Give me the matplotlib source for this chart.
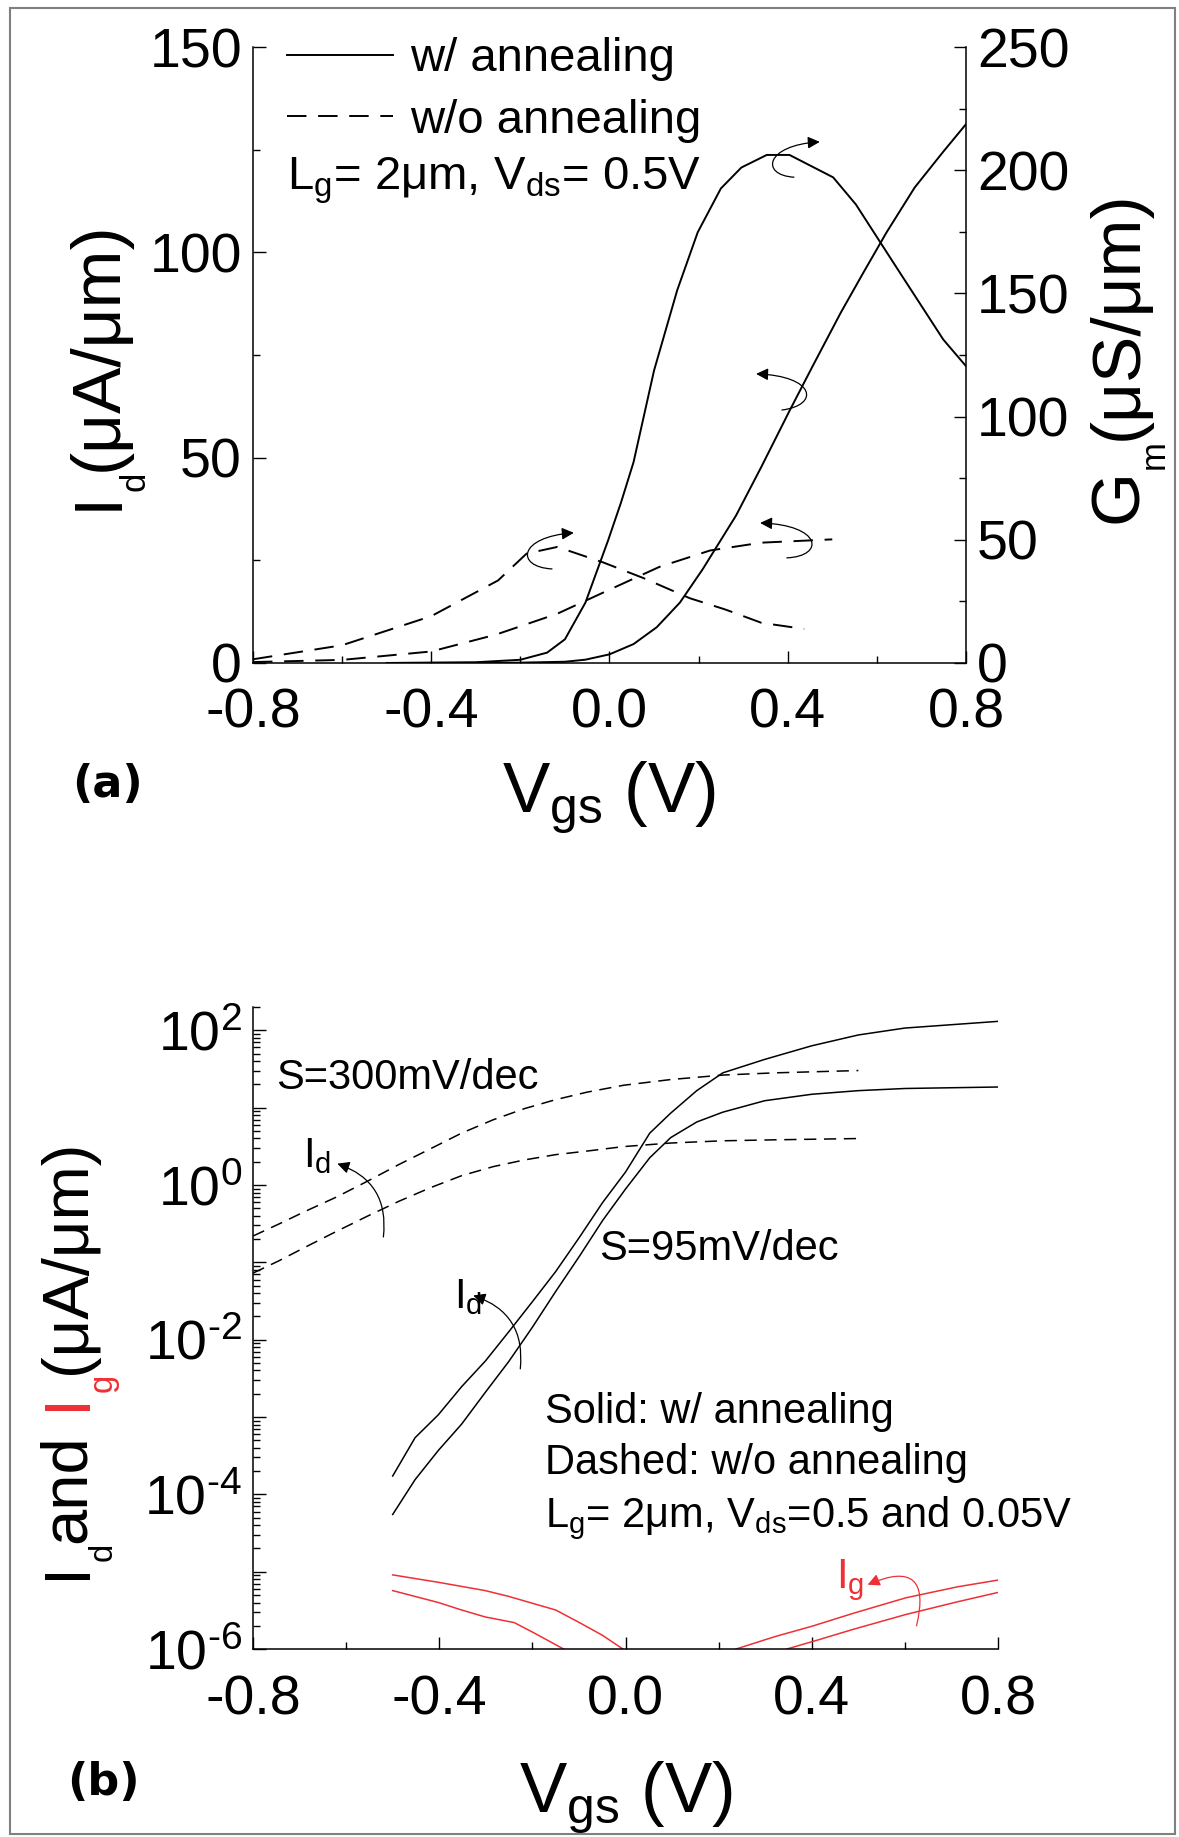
import numpy as np
import matplotlib
matplotlib.use("Agg")
import matplotlib.pyplot as plt
from matplotlib.patches import FancyArrowPatch, Rectangle
from matplotlib.path import Path
from matplotlib.ticker import MultipleLocator

plt.rcParams['font.family'] = ['Liberation Sans', 'DejaVu Sans']
plt.rcParams['mathtext.fontset'] = 'custom'
plt.rcParams['mathtext.rm'] = 'Liberation Sans'
plt.rcParams['mathtext.it'] = 'Liberation Sans:italic'
plt.rcParams['mathtext.default'] = 'regular'
plt.rcParams['axes.unicode_minus'] = False

RED = '#ee3035'
W, H = 1179, 1837

# ---- (a) linear Id and Gm, Vds = 0.5 V ----
vg_id_ann = [-0.5, -0.3, -0.2, -0.1, -0.054, 0.0, 0.054, 0.106, 0.158, 0.209, 0.284,
             0.341, 0.404, 0.456, 0.519, 0.570, 0.622, 0.685, 0.749, 0.8]
id_ann = [0, 0.02, 0.08, 0.3, 0.8, 2.1, 4.6, 8.7, 14.7, 22.8, 35.9,
          47.8, 61.4, 72.3, 85.3, 95.1, 104.9, 115.8, 124.5, 131.2]

vg_gm_ann = [-0.5, -0.3, -0.2, -0.14, -0.1, -0.054, -0.003, 0.026, 0.054, 0.1, 0.152,
             0.198, 0.25, 0.296, 0.353, 0.404, 0.502, 0.553, 0.645, 0.749, 0.8]
gm_ann = [0, 0.3, 1.3, 4.2, 9.6, 24.5, 49.8, 65.2, 81.5, 118.7, 151.3,
          174.8, 192.6, 201.1, 206.2, 206.2, 197.1, 186.1, 160.3, 131.3, 120.5]

vg_id_noann = [-0.8, -0.6, -0.4, -0.255, -0.117, -0.003, 0.112, 0.226, 0.341, 0.5]
id_noann = [0.22, 0.75, 2.8, 6.9, 12.0, 17.7, 23.4, 27.4, 29.3, 30.1]

vg_gm_noann = [-0.8, -0.6, -0.4, -0.25, -0.186, -0.117, -0.014, 0.077, 0.18, 0.26, 0.341, 0.437]
gm_noann = [1.5, 7.2, 19.0, 33.5, 44.4, 47.1, 40.8, 34.4, 26.3, 21.7, 16.3, 13.8]

# ---- (b) log Id and Ig ----
vg_ann_log = [-0.5, -0.452, -0.402, -0.352, -0.301, -0.251, -0.200, -0.150, -0.099, -0.049,
              0.0, 0.052, 0.097, 0.153, 0.209, 0.299, 0.40, 0.50, 0.60, 0.80]
id_ann_hi = [1.73e-4, 5.4e-4, 1.07e-3, 2.47e-3, 5.3e-3, 1.26e-2, 3.1e-2, 7.6e-2, 0.211, 0.596,
             1.47, 4.68, 8.5, 16.6, 28.2, 42.1, 63.1, 87.1, 107, 130.6]
id_ann_lo = [5.5e-5, 1.55e-4, 3.7e-4, 8.1e-4, 2.09e-3, 5.2e-3, 1.45e-2, 4.2e-2, 0.120, 0.349,
             0.887, 2.25, 4.10, 6.53, 8.75, 12.3, 14.9, 16.6, 17.7, 18.5]

vg_noann_log = [-0.8, -0.744, -0.688, -0.621, -0.553, -0.486, -0.419, -0.352, -0.284,
                -0.217, -0.15, -0.082, -0.004, 0.097, 0.209, 0.321, 0.5]
id_noann_hi = [0.219, 0.314, 0.456, 0.698, 1.13, 1.85, 2.94, 4.69, 6.98,
               9.72, 12.7, 15.9, 19.5, 23.1, 26.4, 28.2, 30.2]
id_noann_lo = [0.0726, 0.105, 0.157, 0.251, 0.399, 0.619, 0.923, 1.32, 1.73,
               2.11, 2.47, 2.75, 3.14, 3.49, 3.73, 3.84, 3.99]

vg_ig_l1 = [-0.5, -0.402, -0.301, -0.251, -0.150, -0.099, -0.049, 0.0]
ig_l1 = [9.1e-6, 7.3e-6, 5.7e-6, 4.8e-6, 3.2e-6, 2.2e-6, 1.5e-6, 0.95e-6]
vg_ig_l2 = [-0.5, -0.402, -0.352, -0.301, -0.239, -0.195, -0.13]
ig_l2 = [5.7e-6, 4.0e-6, 3.2e-6, 2.6e-6, 2.2e-6, 1.6e-6, 0.98e-6]
vg_ig_r1 = [0.237, 0.321, 0.40, 0.489, 0.602, 0.714, 0.8]
ig_r1 = [1.0e-6, 1.45e-6, 1.97e-6, 2.9e-6, 4.6e-6, 6.4e-6, 7.8e-6]
vg_ig_r2 = [0.346, 0.411, 0.489, 0.602, 0.714, 0.8]
ig_r2 = [1.0e-6, 1.3e-6, 1.8e-6, 2.8e-6, 4.1e-6, 5.4e-6]

x_ticks = [-0.8, -0.4, 0.0, 0.4, 0.8]
decades = [1e-6, 1e-5, 1e-4, 1e-3, 1e-2, 1e-1, 1e0, 1e1, 1e2]
decade_labels = [r'10$^{\text{-6}}$', '', r'10$^{\text{-4}}$', '', r'10$^{\text{-2}}$', '',
                 r'10$^{\text{0}}$', '', r'10$^{\text{2}}$']

fig = plt.figure(figsize=(W / 100, H / 100), dpi=100)
fig.add_artist(Rectangle((10 / W, 0.0016), (1175 - 10) / W, 0.994, transform=fig.transFigure,
                         fill=False, ec='#808080', lw=1.5))

TICK_FS = 40
LBL_FS = 51


def style_ticks(ax, **kw):
    ax.tick_params(which='both', direction='in', width=1.0, labelsize=TICK_FS, **kw)
    ax.tick_params(which='major', length=9)
    ax.tick_params(which='minor', length=5)
    ax.tick_params(axis='y', pad=8)
    ax.tick_params(axis='x', pad=18)


# ---------------- panel (a) ----------------
ax1 = fig.add_axes([0.2146, 0.6391, 0.6047, 0.3353])
ax2 = ax1.twinx()
lw_a = 1.4
dash_a = (0, (10, 6))
l1, = ax1.plot(vg_id_ann, id_ann, 'k-', lw=lw_a)
l2, = ax1.plot(vg_id_noann, id_noann, color='k', ls=dash_a, lw=lw_a)
ax2.plot(vg_gm_ann, gm_ann, 'k-', lw=lw_a)
ax2.plot(vg_gm_noann, gm_noann, color='k', ls=dash_a, lw=lw_a)

ax1.set_xlim(-0.8, 0.8)
ax1.set_ylim(0, 150)
ax2.set_ylim(0, 250)
ax1.set_xticks(x_ticks)
ax1.set_xticklabels(['%.1f' % v for v in x_ticks])
ax1.xaxis.set_minor_locator(MultipleLocator(0.2))
ax1.set_yticks([0, 50, 100, 150])
ax1.yaxis.set_minor_locator(MultipleLocator(25))
ax2.set_yticks([0, 50, 100, 150, 200, 250])
ax2.yaxis.set_minor_locator(MultipleLocator(25))
for s in ['top', 'right']:
    ax1.spines[s].set_visible(False)
for s in ['top', 'left', 'bottom']:
    ax2.spines[s].set_visible(False)
for sp in ax1.spines.values():
    sp.set_linewidth(1.1)
ax2.spines['right'].set_linewidth(1.1)
style_ticks(ax1, top=False, right=False)
style_ticks(ax2, left=False)
ax1.set_xlabel('V$_{gs}$ (V)', fontsize=LBL_FS, labelpad=14)

ax1.legend([l1, l2], ['w/ annealing', 'w/o annealing'], loc='upper left',
           bbox_to_anchor=(0.048, 1.016), frameon=False, fontsize=34,
           handlelength=2.25, handletextpad=0.35, labelspacing=0.37,
           borderpad=0, borderaxespad=0)
ax1.text(0.048, 0.768, 'L$_g$= 2μm, V$_{ds}$= 0.5V', transform=ax1.transAxes,
         fontsize=34, va='baseline')

# curved pointer arrows (cubic paths, in Id units)
arrows_a = [
    [(0.414, 118.3), (0.338, 118.8), (0.349, 126.1), (0.472, 126.9)],
    [(0.387, 61.6), (0.473, 62.8), (0.462, 69.9), (0.329, 70.4)],
    [(-0.129, 22.9), (-0.212, 23.4), (-0.205, 30.7), (-0.080, 31.7)],
    [(0.398, 25.6), (0.484, 26.0), (0.477, 33.6), (0.338, 34.1)],
]
for pts in arrows_a:
    p = Path(pts, [Path.MOVETO, Path.CURVE4, Path.CURVE4, Path.CURVE4])
    ax1.add_patch(FancyArrowPatch(path=p, arrowstyle='-|>', mutation_scale=18,
                                  lw=0.9, color='k', transform=ax1.transData))

fig.text(72 / W, 0.566, '(a)', fontsize=32, fontweight='bold',
         family='DejaVu Sans', va='baseline')

# ---------------- panel (b) ----------------
ax3 = fig.add_axes([0.2146, 0.1023, 0.6319, 0.3495])
lw_b = 1.1
dash_b = (0, (8, 5))
ax3.plot(vg_ann_log, id_ann_hi, 'k-', lw=lw_b)
ax3.plot(vg_ann_log, id_ann_lo, 'k-', lw=lw_b)
ax3.plot(vg_noann_log, id_noann_hi, color='k', ls=dash_b, lw=lw_b)
ax3.plot(vg_noann_log, id_noann_lo, color='k', ls=dash_b, lw=lw_b)
for vv, ii in [(vg_ig_l1, ig_l1), (vg_ig_l2, ig_l2), (vg_ig_r1, ig_r1), (vg_ig_r2, ig_r2)]:
    ax3.plot(vv, ii, color=RED, lw=lw_b)

ax3.set_yscale('log')
ax3.set_xlim(-0.8, 0.8)
ax3.set_ylim(1e-6, 2.0e2)
ax3.set_xticks(x_ticks)
ax3.set_xticklabels(['%.1f' % v for v in x_ticks])
ax3.xaxis.set_minor_locator(MultipleLocator(0.2))
ax3.set_yticks(decades)
ax3.set_yticklabels(decade_labels)
minor = [m * d for d in decades[:-1] for m in range(2, 10)] + [2e2]
ax3.set_yticks(minor, minor=True)
ax3.set_yticklabels([''] * len(minor), minor=True)
for s in ['top', 'right']:
    ax3.spines[s].set_visible(False)
for sp in ax3.spines.values():
    sp.set_linewidth(1.1)
style_ticks(ax3, top=False, right=False)
ax3.set_xlabel('V$_{gs}$ (V)', fontsize=LBL_FS, labelpad=24)

tfs = 30
ax3.text(0.031, 0.872, 'S=300mV/dec', transform=ax3.transAxes, fontsize=tfs, va='baseline')
ax3.text(0.067, 0.75, 'I$_d$', transform=ax3.transAxes, fontsize=tfs, va='baseline')
ax3.text(0.464, 0.606, 'S=95mV/dec', transform=ax3.transAxes, fontsize=tfs, va='baseline')
ax3.text(0.27, 0.531, 'I$_d$', transform=ax3.transAxes, fontsize=tfs, va='baseline')
ax3.text(0.392, 0.352, 'Solid: w/ annealing', transform=ax3.transAxes, fontsize=tfs, va='baseline')
ax3.text(0.392, 0.273, 'Dashed: w/o annealing', transform=ax3.transAxes, fontsize=tfs, va='baseline')
ax3.text(0.392, 0.19, 'L$_g$= 2μm, V$_{ds}$=0.5 and 0.05V', transform=ax3.transAxes,
         fontsize=tfs, va='baseline')
ax3.text(0.783, 0.095, 'I$_g$', transform=ax3.transAxes, fontsize=tfs, va='baseline', color=RED)

arrows_b = [
    ((-0.619, 1.89), (-0.520, 0.213), 'k', 0.4),
    ((-0.327, 0.0373), (-0.226, 4.2e-3), 'k', 0.4),
    ((0.52, 6.8e-6), (0.625, 2.0e-6), RED, 1.0),
]
for tip, start, c, rad in arrows_b:
    ax3.annotate('', xy=tip, xytext=start,
                 arrowprops=dict(arrowstyle='-|>', mutation_scale=18, lw=0.9, color=c,
                                 shrinkA=0, shrinkB=0,
                                 connectionstyle='arc3,rad=%s' % rad))

fig.text(67 / W, 0.023, '(b)', fontsize=32, fontweight='bold',
         family='DejaVu Sans', va='baseline')


# ---------------- rotated axis labels, built piece by piece ----------------
def vlabel(x, y, parts, size):
    r = fig.canvas.get_renderer()
    for s, c, sub, gap in parts:
        fs = size * 0.5 if sub else size
        dx = 27 / W if sub else 0
        t = fig.text(x + dx, y, s, rotation=90, rotation_mode='anchor',
                     ha='left', va='baseline', fontsize=fs, color=c)
        y += (t.get_window_extent(r).height + gap) / H


vlabel(117 / W, 1 - 510 / H, [('I', 'k', False, 0), ('d', 'k', True, 0),
                              ('(μA/μm)', 'k', False, 0)], 50)
vlabel(1137 / W, 1 - 523 / H, [('G', 'k', False, 0), ('m', 'k', True, 0),
                               ('(μS/μm)', 'k', False, 0)], 50)
vlabel(85 / W, 1 - 1579 / H, [('I', 'k', False, 0), ('d', 'k', True, 0), ('and', 'k', False, 24),
                              ('I', RED, False, 0), ('g', RED, True, 0),
                              ('(μA/μm)', 'k', False, 0)], 47)

fig.savefig('out.png', dpi=100)
